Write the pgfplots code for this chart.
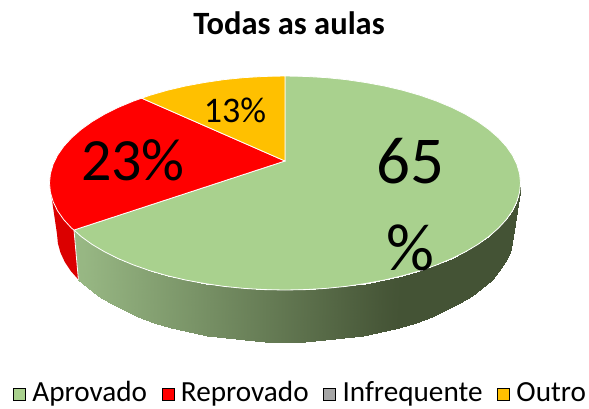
\documentclass[border=0pt]{standalone}
\usepackage{fontspec}
\setmainfont{Carlito}
\usepackage{pgfplots}
\pgfplotsset{compat=1.18}
\definecolor{pgreen}{HTML}{A9D18E}
\definecolor{pred}{HTML}{FF0000}
\definecolor{pyellow}{HTML}{FFC000}
\definecolor{pgray}{HTML}{A5A5A5}
\definecolor{reddark}{HTML}{DB0000}
\pgfplotsset{colormap={side}{rgb255=(152,184,132) rgb255=(68,83,53)}}
\pgfplotsset{sq/.style={legend image code/.code={\fill[##1] (0pt,-7.5pt) rectangle (12pt,4.5pt);\path (17pt,0pt);}}}
\begin{document}
\begin{tikzpicture}
\begin{axis}[
  scale only axis, width=589pt, height=408pt,
  xmin=0, xmax=589, ymin=0, ymax=408, y dir=reverse,
  hide axis, clip=false,
  colormap name=side, point meta min=80, point meta max=395,
  legend columns=4,
  legend cell align=left,
  legend style={at={(axis cs:300.5,392.5)}, anchor=center, draw=none, fill=none,
    font=\fontsize{29.2}{32}\selectfont, inner sep=0pt,
    /tikz/every even column/.append style={column sep=12.5pt}},
]
% side of the large slice
\addplot[patch, patch type=rectangle, shader=interp, point meta=x, forget plot] coordinates {
(520.5,183)(513,234)(512.1,243.4)(519.6,192.3)
(519.6,192.3)(512.1,243.4)(509.5,252.7)(516.9,201.6)
(516.9,201.6)(509.5,252.7)(505.2,262)(512.5,210.7)
(512.5,210.7)(505.2,262)(499.3,270.9)(506.3,219.6)
(506.3,219.6)(499.3,270.9)(491.6,279.6)(498.4,228.2)
(498.4,228.2)(491.6,279.6)(482.4,288)(488.9,236.5)
(488.9,236.5)(482.4,288)(471.8,295.9)(477.9,244.4)
(477.9,244.4)(471.8,295.9)(459.6,303.4)(465.4,251.8)
(465.4,251.8)(459.6,303.4)(446.2,310.4)(451.5,258.7)
(451.5,258.7)(446.2,310.4)(431.6,316.7)(436.4,265)
(436.4,265)(431.6,316.7)(415.8,322.5)(420.1,270.7)
(420.1,270.7)(415.8,322.5)(399,327.5)(402.8,275.7)
(402.8,275.7)(399,327.5)(381.4,331.9)(384.5,280)
(384.5,280)(381.4,331.9)(363,335.5)(365.5,283.5)
(365.5,283.5)(363,335.5)(344,338.3)(345.9,286.4)
(345.9,286.4)(344,338.3)(324.6,340.4)(325.9,288.4)
(325.9,288.4)(324.6,340.4)(304.9,341.6)(305.5,289.6)
(305.5,289.6)(304.9,341.6)(285,342)(285,290)
(285,290)(285,342)(265.1,341.6)(264.5,289.6)
(264.5,289.6)(265.1,341.6)(245.4,340.4)(244.1,288.4)
(244.1,288.4)(245.4,340.4)(226,338.3)(224.1,286.4)
(224.1,286.4)(226,338.3)(207,335.5)(204.5,283.5)
(204.5,283.5)(207,335.5)(188.6,331.9)(185.5,280)
(185.5,280)(188.6,331.9)(171,327.5)(167.2,275.7)
(167.2,275.7)(171,327.5)(154.2,322.5)(149.9,270.7)
(149.9,270.7)(154.2,322.5)(138.4,316.7)(133.6,265)
(133.6,265)(138.4,316.7)(123.8,310.4)(118.5,258.7)
(118.5,258.7)(123.8,310.4)(110.4,303.4)(104.6,251.8)
(104.6,251.8)(110.4,303.4)(98.2,295.9)(92.1,244.4)
(92.1,244.4)(98.2,295.9)(87.6,288)(81.1,236.5)
(81.1,236.5)(87.6,288)(78.4,279.6)(74,230)
};
% side of the red slice
\addplot[fill=reddark, draw=none, forget plot] coordinates {
(74,230)(78.4,279.6)(70.7,270.9)(64.8,262)(60.5,252.7)(57.9,243.4)(57,234)(49.5,183)
} -- cycle;
\addplot[draw=white, line width=0.8pt, forget plot] coordinates {(74,230)(78.4,279.6)};
% top face
\addplot[fill=pgreen, draw=white, line width=0.8pt, forget plot] coordinates {
(285,161)(74,230)(81.1,236.5)(92.1,244.4)(104.6,251.8)(118.5,258.7)(133.6,265)(149.9,270.7)(167.2,275.7)(185.5,280)(204.5,283.5)(224.1,286.4)(244.1,288.4)(264.5,289.6)(285,290)(305.5,289.6)(325.9,288.4)(345.9,286.4)(365.5,283.5)(384.5,280)(402.8,275.7)(420.1,270.7)(436.4,265)(451.5,258.7)(465.4,251.8)(477.9,244.4)(488.9,236.5)(498.4,228.2)(506.3,219.6)(512.5,210.7)(516.9,201.6)(519.6,192.3)(520.5,183)(519.6,173.7)(516.9,164.4)(512.5,155.3)(506.3,146.4)(498.4,137.8)(488.9,129.5)(477.9,121.6)(465.4,114.2)(451.5,107.3)(436.4,101)(420.1,95.3)(402.8,90.3)(384.5,86)(365.5,82.5)(345.9,79.6)(325.9,77.6)(305.5,76.4)(285,76)
} -- cycle;
\addplot[fill=pred, draw=white, line width=0.8pt, forget plot] coordinates {
(285,161)(141.7,98.2)(133.6,101)(118.5,107.3)(104.6,114.2)(92.1,121.6)(81.1,129.5)(71.6,137.8)(63.7,146.4)(57.5,155.3)(53.1,164.4)(50.4,173.7)(49.5,183)(50.4,192.3)(53.1,201.6)(57.5,210.7)(63.7,219.6)(71.6,228.2)(74,230)
} -- cycle;
\addplot[fill=pyellow, draw=white, line width=0.8pt, forget plot] coordinates {
(285,161)(285,76)(264.5,76.4)(244.1,77.6)(224.1,79.6)(204.5,82.5)(185.5,86)(167.2,90.3)(149.9,95.3)(141.7,98.2)
} -- cycle;
% legend
\addlegendimage{sq, fill=pgreen}
\addlegendentry{Aprovado}
\addlegendimage{sq, fill=pred}
\addlegendentry{Reprovado}
\addlegendimage{sq, fill=pgray}
\addlegendentry{Infrequente}
\addlegendimage{sq, fill=pyellow}
\addlegendentry{Outro}
% text
\node[font=\fontsize{32.5}{34}\selectfont\bfseries] at (axis cs:289,23) {Todas as aulas};
\node[font=\fontsize{67}{87}\selectfont, align=center] at (axis cs:410,205) {65\\\%};
\node[font=\fontsize{60}{62}\selectfont] at (axis cs:133,160) {23\%};
\node[font=\fontsize{36}{38}\selectfont] at (axis cs:235,110) {13\%};
\path (axis cs:0,0) -- (axis cs:589,408);
\end{axis}
\end{tikzpicture}
\end{document}
